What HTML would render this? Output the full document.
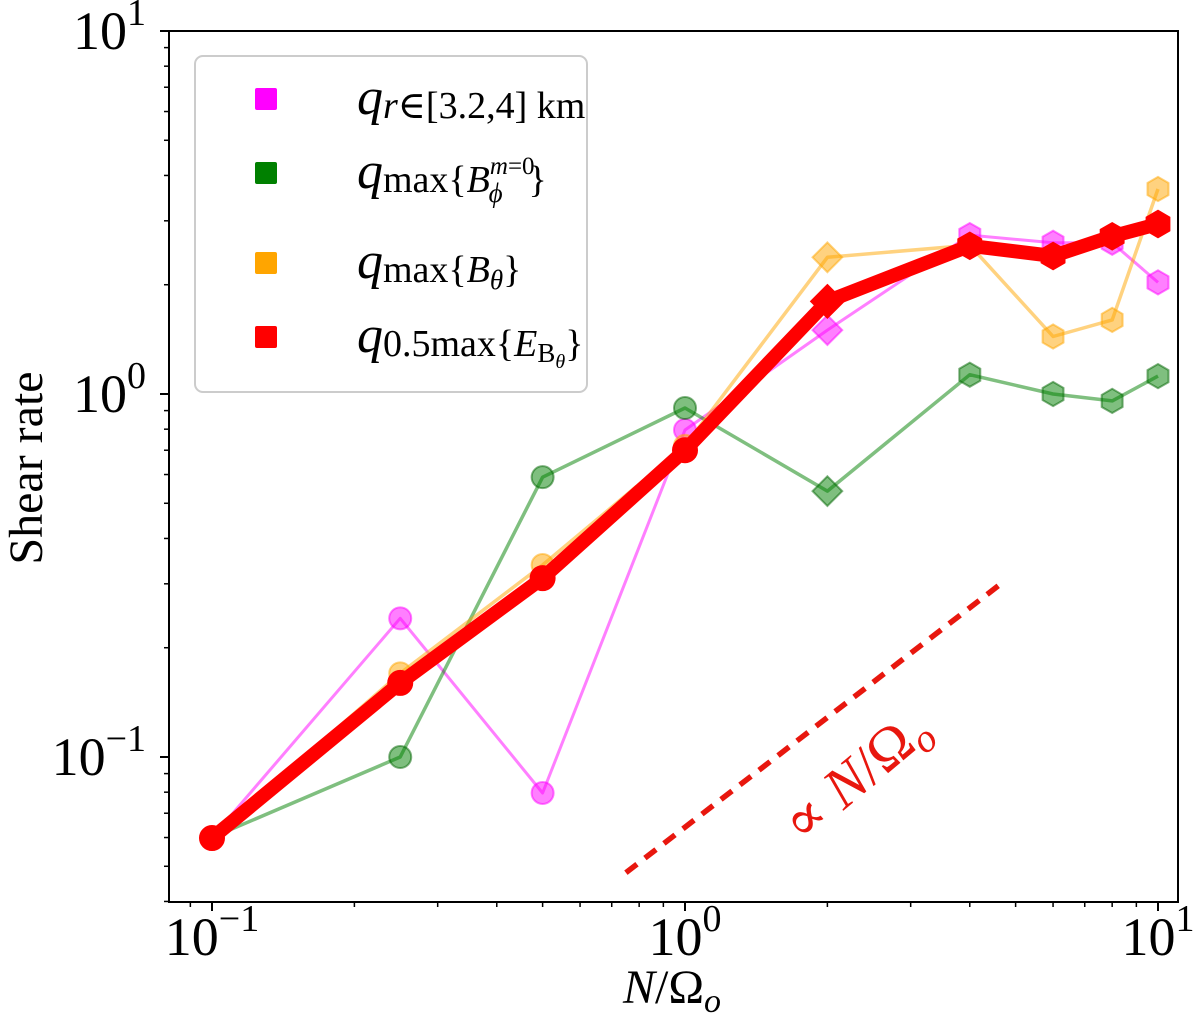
<!DOCTYPE html>
<html><head><meta charset="utf-8"><style>
html,body{margin:0;padding:0;background:#fff;}
svg text{font-family:"Liberation Serif","DejaVu Serif",serif;}
</style></head><body>
<svg id="chart" width="1200" height="1026" viewBox="0 0 1200 1026" xmlns="http://www.w3.org/2000/svg">
<rect x="0" y="0" width="1200" height="1026" fill="#fff"/>
<g id="series-layer"></g>
<g id="axes-layer"></g>
<g>
  <rect x="195" y="56" width="392" height="336" rx="8" fill="#fff" fill-opacity="0.8" stroke="#cccccc" stroke-width="2"/>
  <rect x="255" y="88" width="22" height="22" rx="2" fill="#ff00ff"/>
  <rect x="255" y="162" width="22" height="22" rx="2" fill="#008000"/>
  <rect x="255" y="252" width="22" height="22" rx="2" fill="#ffa500"/>
  <rect x="255" y="326" width="22" height="22" rx="2" fill="#ff0000"/>
  <text x="357" y="114" font-size="52"><tspan font-style="italic">q</tspan><tspan font-size="38" dy="4"><tspan font-style="italic">r</tspan>∈[3.2,4] km</tspan></text>
  <text x="357" y="188" font-size="52"><tspan font-style="italic">q</tspan><tspan font-size="38" dy="4">max{<tspan font-style="italic">B</tspan></tspan><tspan font-size="25" font-style="italic" dy="-18">m</tspan><tspan font-size="25">=0</tspan><tspan font-size="27" font-style="italic" dx="-46" dy="28">ϕ</tspan><tspan font-size="38" dx="26" dy="-10">}</tspan></text>
  <text x="357" y="278" font-size="52"><tspan font-style="italic">q</tspan><tspan font-size="38" dy="4">max{<tspan font-style="italic">B</tspan></tspan><tspan font-size="27" font-style="italic" dy="7">θ</tspan><tspan font-size="38" dy="-7">}</tspan></text>
  <text x="357" y="352" font-size="52"><tspan font-style="italic">q</tspan><tspan font-size="38" dy="4">0.5max{<tspan font-style="italic">E</tspan></tspan><tspan font-size="27" dy="6">B</tspan><tspan font-size="20" font-style="italic" dy="6">θ</tspan><tspan font-size="38" dy="-12">}</tspan></text>
</g>
<text x="0" y="0" font-size="48" text-anchor="middle" transform="translate(42,468) rotate(-90)">Shear rate</text>
<text x="672" y="1003" font-size="48" text-anchor="middle"><tspan font-style="italic">N</tspan>/Ω<tspan font-style="italic" font-size="34" dy="9">o</tspan></text>
</svg>
<script>
const xValues = [0.1, 0.25, 0.5, 1, 2, 4, 6, 8, 10];
const magentaValues = [0.06, 0.241, 0.0796, 0.796, 1.5, 2.74, 2.61, 2.61, 2.03];
const greenValues = [0.06, 0.1, 0.59, 0.915, 0.54, 1.13, 1.0, 0.957, 1.12];
const orangeValues = [0.06, 0.17, 0.338, 0.72, 2.38, 2.57, 1.44, 1.60, 3.67];
const redValues = [0.0598, 0.16, 0.311, 0.70, 1.80, 2.56, 2.40, 2.72, 2.94];
const markerShapes = ['circle','circle','circle','circle','diamond','hex','hex','hex','hex'];
const refLineX = [0.75, 4.7];
const refLineY = [0.048, 0.303];
const xTickLabels = ['−1','0','1'];
const yTickLabels = ['−1','0','1'];

const L=169,R=1178,T=31,B=902;
function xs(v){return 685+473*Math.log10(v);}
function ys(v){return 394-363*Math.log10(v);}
const NS='http://www.w3.org/2000/svg';
function mk(tag,attrs,parent){const e=document.createElementNS(NS,tag);for(const k in attrs)e.setAttribute(k,attrs[k]);parent.appendChild(e);return e;}
const sl=document.getElementById('series-layer');
const ax=document.getElementById('axes-layer');

function marker(shape,cx,cy,r,fill,stroke,op,parent){
  let e;
  if(shape==='circle'){e=mk('circle',{cx:cx,cy:cy,r:r},parent);}
  else if(shape==='diamond'){const d=r*1.35;e=mk('polygon',{points:`${cx},${cy-d} ${cx+d},${cy} ${cx},${cy+d} ${cx-d},${cy}`},parent);}
  else{let p=[];for(let i=0;i<6;i++){const a=Math.PI/6+i*Math.PI/3;p.push((cx+r*1.1*Math.cos(a)).toFixed(1)+','+(cy+r*1.1*Math.sin(a)).toFixed(1));}e=mk('polygon',{points:p.join(' ')},parent);}
  e.setAttribute('fill',fill);e.setAttribute('fill-opacity',op);e.setAttribute('stroke',stroke);e.setAttribute('stroke-opacity',op);e.setAttribute('stroke-width',2);
  return e;
}
function series(name,vals,color,edge,lw,op,r,skipFirst){
  const g=mk('g',{},sl);
  
  
  const pts=xValues.map((x,i)=>xs(x).toFixed(1)+','+ys(vals[i]).toFixed(1)).join(' ');
  const pl=mk('polyline',{points:pts,fill:'none',stroke:color,'stroke-width':lw,'stroke-opacity':op,'stroke-linejoin':'round'},g);
  
  
  xValues.forEach((x,i)=>{
    if(skipFirst&&i===0)return;
    const m=marker(markerShapes[i],xs(x),ys(vals[i]),r,color,edge,op<1?0.5:1,g);
    
    
  });
}
series('magenta',magentaValues,'#ff00ff','#ff00ff',3,0.5,11,true);
series('green',greenValues,'#008000','#006400',3.5,0.5,11,true);
series('orange',orangeValues,'#ffa500','#ffa500',3.5,0.5,11,true);
series('red',redValues,'#ff0000','#ff0000',14,1,12,false);

const ref=mk('line',{x1:xs(refLineX[0]),y1:ys(refLineY[0]),x2:xs(refLineX[1]),y2:ys(refLineY[1]),stroke:'#e8170e','stroke-width':5.5,'stroke-dasharray':'14 10'},sl);


const rt=mk('text',{x:0,y:0,'font-size':58,fill:'#e8170e','text-anchor':'middle',transform:'translate(868,790) rotate(-40)'},sl);


rt.innerHTML='∝ <tspan font-style="italic">N</tspan>/Ω<tspan font-style="italic" font-size="40" dy="10">o</tspan>';

const fr=mk('rect',{x:L,y:T,width:R-L,height:B-T,fill:'none',stroke:'#000','stroke-width':2},ax);


for(let d=-2;d<=1;d++){for(let m=1;m<10;m++){const v=m*Math.pow(10,d);const x=xs(v);if(x<L-0.5||x>R+0.5)continue;
  const t=mk('line',{x1:x,y1:B,x2:x,y2:B+(m===1?9:5),stroke:'#000','stroke-width':m===1?2:1.5},ax);
  
  }}
xTickLabels.forEach((lab,i)=>{const x=xs(Math.pow(10,i-1));
  const t=mk('text',{x:x,y:955,'font-size':54,'text-anchor':'middle'},ax);
  
  
  t.innerHTML='10<tspan font-size="38" dy="-24">'+lab+'</tspan>';});
for(let d=-2;d<=1;d++){for(let m=1;m<10;m++){const v=m*Math.pow(10,d);const y=ys(v);if(y<T-0.5||y>B+0.5)continue;
  const t=mk('line',{x1:L,y1:y,x2:L-(m===1?9:5),y2:y,stroke:'#000','stroke-width':m===1?2:1.5},ax);
  
  }}
yTickLabels.forEach((lab,i)=>{const y=ys(Math.pow(10,i-1));
  const t=mk('text',{x:146,y:y+18,'font-size':54,'text-anchor':'end'},ax);
  
  
  t.innerHTML='10<tspan font-size="38" dy="-24">'+lab+'</tspan>';});
</script>
</body></html>
